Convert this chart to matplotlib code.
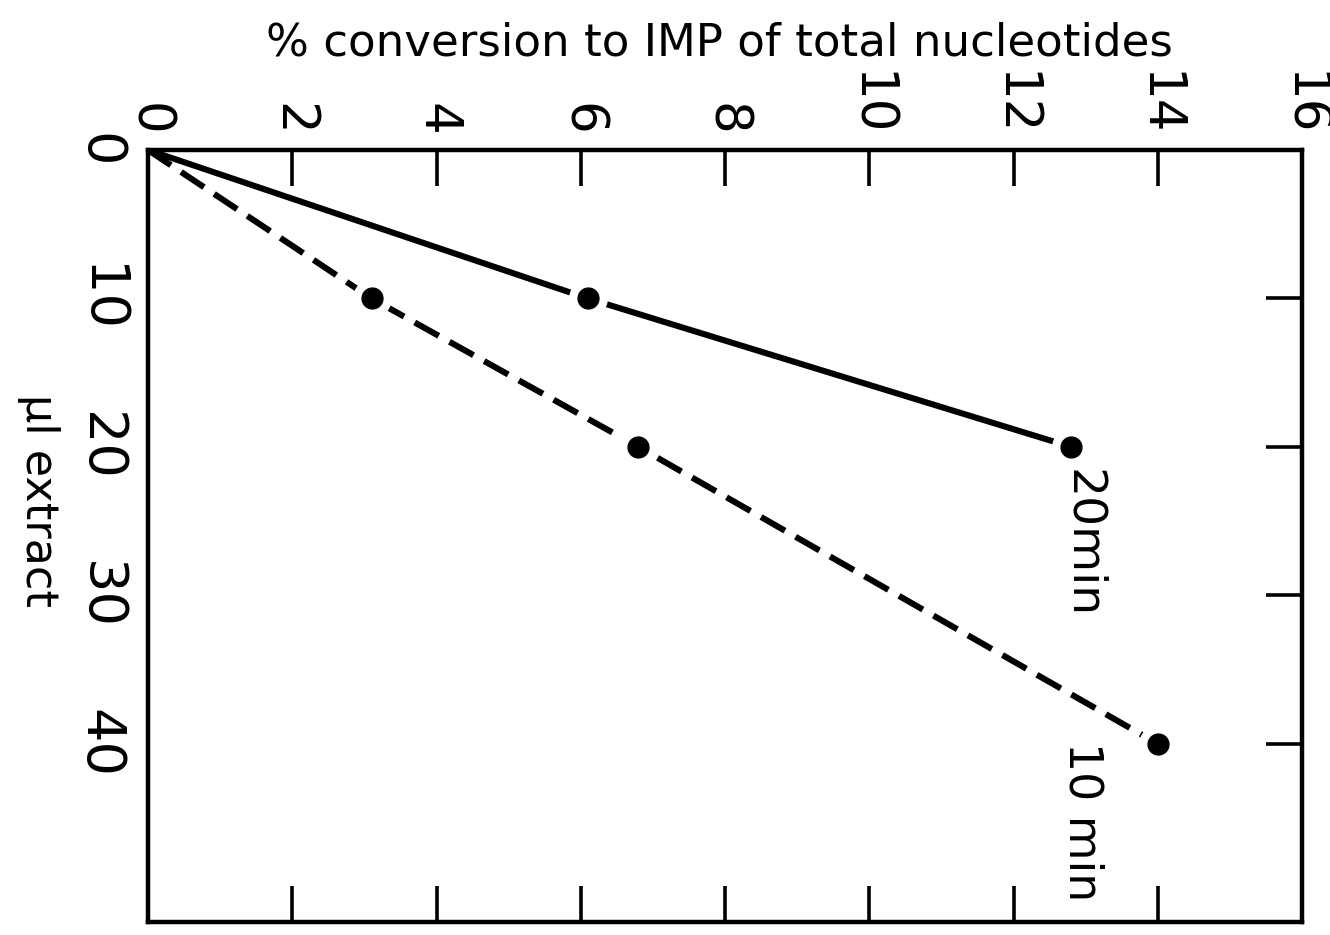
import matplotlib
matplotlib.use("Agg")
import matplotlib.pyplot as plt

# µl of extract added
extract_20min = [0, 10, 20]
extract_10min = [0, 10, 20, 40]
# % conversion to IMP of total nucleotides
conv_20min = [0.0, 6.1, 12.8]
conv_10min = [0.0, 3.1, 6.8, 14.0]

x_ticks = [0, 2, 4, 6, 8, 10, 12, 14, 16]
y_ticks = [0, 10, 20, 30, 40]
series_labels = ["20min", "10 min"]

plt.rcParams['font.family'] = ['DejaVu Sans']

fig = plt.figure(figsize=(13.3, 9.35), dpi=100)
ax = fig.add_axes([148 / 1330, 1 - 922 / 935, (1302 - 148) / 1330, (922 - 150) / 935])

ax.set_xlim(0, 16)
ax.set_ylim(52, 0)

lw = 4.4
# solid line: 20 min incubation
ax.plot(conv_20min, extract_20min, color='black', lw=lw, solid_capstyle='butt', zorder=2)
# dashed line: 10 min incubation
ax.plot(conv_10min, extract_10min, color='black', lw=lw, dashes=(4.5, 2.0),
        dash_capstyle='butt', zorder=2)

# data points with a small white halo that breaks the line around each dot
for xs, ys in ((conv_20min, extract_20min), (conv_10min, extract_10min)):
    ax.plot(xs[1:], ys[1:], ls='none', marker='o', ms=27, mfc='white', mec='white', zorder=3)
    ax.plot(xs[1:], ys[1:], ls='none', marker='o', ms=15, mfc='black', mec='black', zorder=4)

ax.text(conv_20min[-1] + 0.15, extract_20min[-1] + 1.5, series_labels[0], rotation=-90,
        ha='center', va='top', fontsize=34)
ax.text(conv_10min[-1] - 1.05, extract_10min[-1] - 0.1, series_labels[1], rotation=-90,
        ha='center', va='top', fontsize=33)

for s in ax.spines.values():
    s.set_linewidth(3.2)

ax.xaxis.tick_top()
ax.set_xticks(x_ticks)
ax.set_xticklabels([str(v) for v in x_ticks], rotation=-90, fontsize=37)
ax.tick_params(axis='x', which='both', top=True, bottom=True, direction='in',
               length=26, width=2.6, pad=10)

ax.set_yticks(y_ticks)
ax.set_yticklabels([str(v) for v in y_ticks], rotation=-90, fontsize=39, va='center')
ax.tick_params(axis='y', which='both', left=False, right=True, labelleft=True,
               direction='in', length=26, width=2.6, pad=16)

fig.text(719 / 1330, 1 - 43 / 935, "% conversion to IMP of total nucleotides",
         ha='center', va='center', fontsize=32.5)
fig.text(38 / 1330, 1 - 500 / 935, "µl extract", rotation=-90,
         ha='center', va='center', fontsize=32)

fig.savefig("out.png", dpi=100, facecolor='white')
